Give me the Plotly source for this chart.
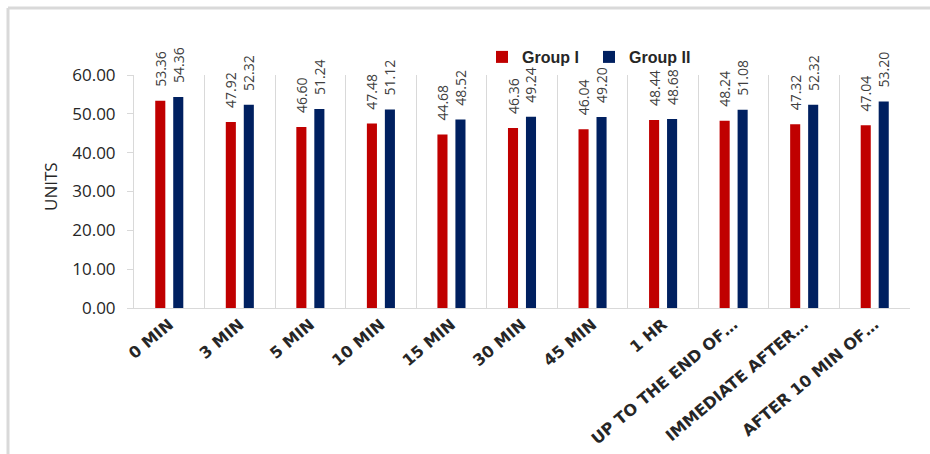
import plotly.graph_objects as go

categories = ["0 MIN", "3 MIN", "5 MIN", "10 MIN", "15 MIN", "30 MIN", "45 MIN", "1 HR",
              "UP TO THE END OF…", "IMMEDIATE AFTER…", "AFTER 10 MIN OF…"]
group1 = [53.36, 47.92, 46.60, 47.48, 44.68, 46.36, 46.04, 48.44, 48.24, 47.32, 47.04]
group2 = [54.36, 52.32, 51.24, 51.12, 48.52, 49.24, 49.20, 48.68, 51.08, 52.32, 53.20]

W, H = 930, 454
L, R, T, B = 134, 20, 75, 146
pw, ph = W - L - R, H - T - B

def px_x(p):
    return (p - L) / pw

def px_y(p):
    return (H - B - p) / ph

grey = "#d9d9d9"
fig = go.Figure()
for name, vals, col in [("Group I", group1, "#C00000"), ("Group II", group2, "#002060")]:
    fig.add_trace(go.Bar(
        x=categories, y=vals, name=name, marker=dict(color=col, line=dict(width=0)),
        texttemplate="\u00a0\u00a0\u00a0%{y:.2f}", textposition="outside", textangle=-90,
        textfont=dict(family="Open Sans", size=14, color="#404040"),
        constraintext="none", cliponaxis=False,
    ))

fig.update_layout(
    width=W, height=H, margin=dict(l=L, r=R, t=T, b=B, autoexpand=False),
    paper_bgcolor="white", plot_bgcolor="white",
    bargap=0.49, bargroupgap=0.44,
    font=dict(family="Open Sans", color="#404040"),
    legend=dict(orientation="h", x=px_x(482), y=px_y(57), xanchor="left", yanchor="middle",
                bgcolor="rgba(0,0,0,0)",
                font=dict(family="Liberation Sans", size=16, color="#262626", weight="bold"),
                entrywidth=62, itemwidth=30, traceorder="normal"),
    xaxis=dict(tickson="boundaries", showgrid=True, gridcolor=grey, gridwidth=1,
               showline=True, linecolor=grey, linewidth=1, ticks="",
               tickangle=-40, tickfont=dict(family="DejaVu Sans", size=16, color="#262626", weight="bold")),
    yaxis=dict(range=[0, 60], dtick=10, tickformat=".2f", showgrid=False, zeroline=False,
               showline=True, linecolor=grey, linewidth=1, ticks="outside", ticklen=6, tickcolor=grey,
               ticklabelstandoff=8,
               tickfont=dict(family="Open Sans", size=17, color="#262626")),
    annotations=[dict(text="UNITS", xref="paper", yref="paper", x=px_x(50), y=px_y(187),
                      textangle=-90, showarrow=False, xanchor="center", yanchor="middle",
                      font=dict(family="Open Sans", size=17, color="#262626"))],
    shapes=[
        dict(type="line", xref="paper", yref="paper", x0=px_x(8), x1=px_x(935), y0=px_y(8), y1=px_y(8),
             line=dict(color=grey, width=3)),
        dict(type="line", xref="paper", yref="paper", x0=px_x(8), x1=px_x(8), y0=px_y(8), y1=px_y(460),
             line=dict(color=grey, width=3)),
    ],
)

fig.write_html("out.html")
